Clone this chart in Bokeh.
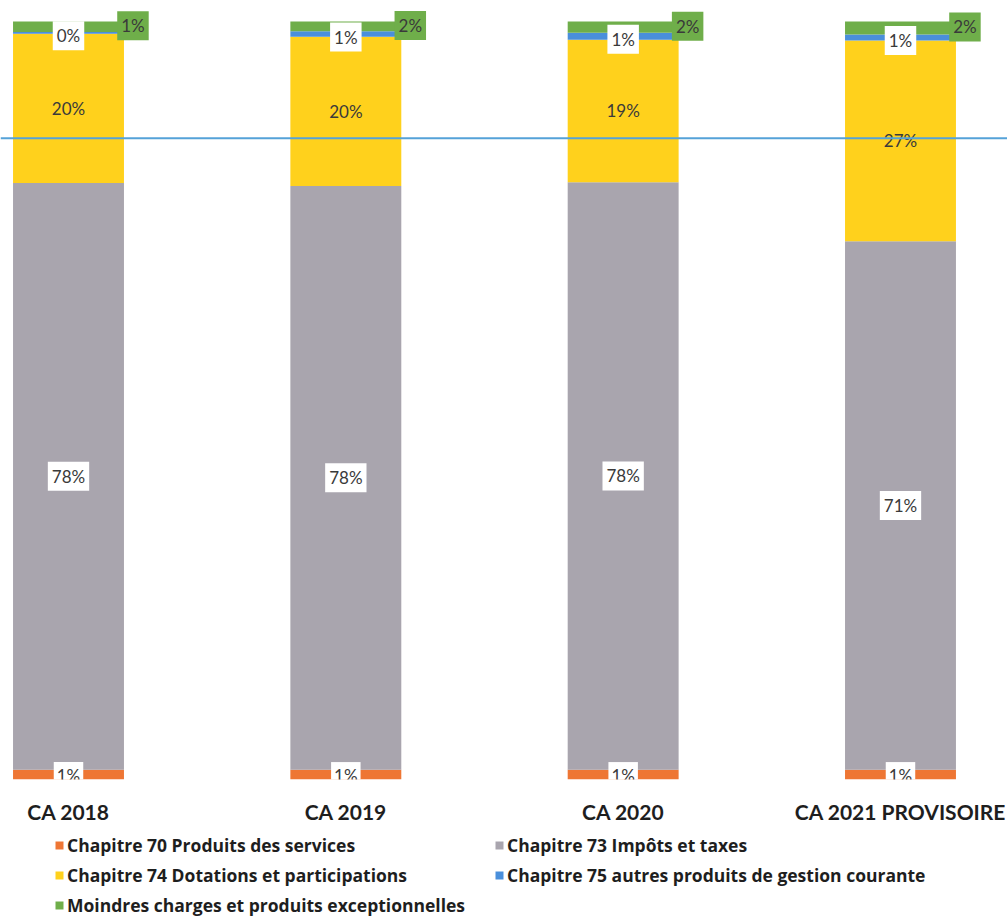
from bokeh.plotting import figure
from bokeh.layouts import column
from bokeh.models import ColumnDataSource, Range1d, FixedTicker, Legend, LegendItem, Span
from bokeh.core.properties import value
from bokeh.embed import file_html
from bokeh.resources import INLINE

# ---- data -------------------------------------------------------------
categories = ["CA 2018", "CA 2019", "CA 2020", "CA 2021 PROVISOIRE"]
series_names = [
    "Chapitre 70 Produits des services",
    "Chapitre 73 Impôts et taxes",
    "Chapitre 74 Dotations et participations",
    "Chapitre 75 autres produits de gestion courante",
    "Moindres charges et produits exceptionnelles",
]
ch70 = [1.3, 1.3, 1.3, 1.3]
ch73 = [77.4, 77.0, 77.5, 69.7]
ch74 = [19.7, 19.7, 18.8, 26.5]
ch75 = [0.2, 0.7, 0.9, 0.8]
moindres = [1.4, 1.3, 1.5, 1.7]

labels_ch70 = ["1%", "1%", "1%", "1%"]
labels_ch73 = ["78%", "78%", "78%", "71%"]
labels_ch74 = ["20%", "20%", "19%", "27%"]
labels_ch75 = ["0%", "1%", "1%", "1%"]
labels_moindres = ["1%", "2%", "2%", "2%"]

reference_line = 84.6

colors = ["#EE7634", "#A9A5AE", "#FFD11C", "#4A8FDB", "#6FAE4A"]
FONT = "Lato"
LEGEND_FONT = "Open Sans"

# ---- derived ----------------------------------------------------------
x = list(range(len(categories)))
keys = ["ch70", "ch73", "ch74", "ch75", "moindres"]
series = [ch70, ch73, ch74, ch75, moindres]
data = {"x": x}
for k, s in zip(keys, series):
    data[k] = s
source = ColumnDataSource(data)

bar_w = 0.4
px_per_unit = 277.33
frame_w = 1007
x_start = -68 / px_per_unit
x_end = x_start + frame_w / px_per_unit

bar_px = 758          # pixel height of a 100 % bar
top_gap = 21          # free pixels above the bars inside the frame
y_end = 100 * (bar_px + top_gap) / bar_px

p = figure(
    frame_width=frame_w, frame_height=bar_px + top_gap,
    x_range=Range1d(x_start, x_end), y_range=Range1d(0, y_end),
    output_backend="svg", toolbar_location=None, y_axis_location=None,
    min_border_left=0, min_border_right=0, min_border_top=0, min_border_bottom=54,
)
p.outline_line_color = None
p.grid.visible = False
p.background_fill_color = "white"

rends = p.vbar_stack(keys, x="x", width=bar_w, color=colors, line_color=None, source=source)

# label positions from the stacked values
def centers(idx):
    out = []
    for j in range(len(categories)):
        base = sum(series[i][j] for i in range(idx))
        out.append(base + series[idx][j] / 2)
    return out

text_common = dict(text_align="center", text_baseline="middle",
                   text_font=value(FONT), text_font_size="17px", text_color="#3A3A3A")

# Chapitre 70 (white boxes)
p.text(x=x, y=centers(0), text=labels_ch70, background_fill_color="white",
       padding=3, y_offset=1, **text_common)
# Chapitre 73 (white boxes)
p.text(x=x, y=centers(1), text=labels_ch73, background_fill_color="white",
       padding=4, **text_common)
# Chapitre 74 (no box)
p.text(x=x, y=centers(2), text=labels_ch74, **text_common)
# Chapitre 75 (white boxes)
p.text(x=x, y=centers(3), text=labels_ch75, background_fill_color="white",
       padding=4, y_offset=3, **text_common)
# Moindres (green boxes, right of bar)
p.text(x=[v + bar_w / 2 for v in x], y=centers(4), text=labels_moindres,
       background_fill_color=colors[4], padding=4, x_offset=9, y_offset=-1, **text_common)

p.add_layout(Span(location=reference_line, dimension="width",
                  line_color="#55A2D8", line_width=2))

# axis
ax = p.xaxis[0]
ax.ticker = FixedTicker(ticks=x)
ax.major_label_overrides = {i: c for i, c in zip(x, categories)}
ax.major_label_text_font = FONT
ax.major_label_text_font_style = "bold"
ax.major_label_text_font_size = "21px"
ax.major_label_text_color = "#1E1E1E"
ax.major_label_standoff = 19
ax.major_tick_out = 0
ax.major_tick_in = 0
ax.minor_tick_out = 0
ax.minor_tick_in = 0
ax.axis_line_color = None

# ---- legend strip (second figure) -------------------------------------
# the strip's ranges lie far away from the data, so only the legend shows
p2 = figure(
    frame_width=frame_w, frame_height=84,
    x_range=Range1d(10, 11), y_range=Range1d(200, 201),
    output_backend="svg", toolbar_location=None,
    x_axis_location=None, y_axis_location=None,
    min_border_left=0, min_border_right=0, min_border_top=0, min_border_bottom=0,
)
p2.outline_line_color = None
p2.grid.visible = False
leg_rends = p2.vbar_stack(keys, x="x", width=bar_w, color=colors, line_color=None, source=source)

# legend fills column by column: left column 70 / 74 / Moindres, right column 73 / 75
order = [0, 2, 4, 1, 3]
items = [LegendItem(label=series_names[i], renderers=[leg_rends[i]]) for i in order]
legend = Legend(items=items, ncols=2, location=(54, 0),
                label_text_font=LEGEND_FONT, label_text_font_style="bold",
                label_text_font_size="17.5px", label_text_color="#1E1E1E",
                glyph_width=10, glyph_height=10, label_standoff=3,
                label_height=20, spacing=6, label_width=421,
                padding=0, margin=0, border_line_color=None,
                background_fill_alpha=0)
p2.add_layout(legend, "center")

layout = column(p, p2, spacing=0)
open("out.html", "w").write(file_html(layout, INLINE))
